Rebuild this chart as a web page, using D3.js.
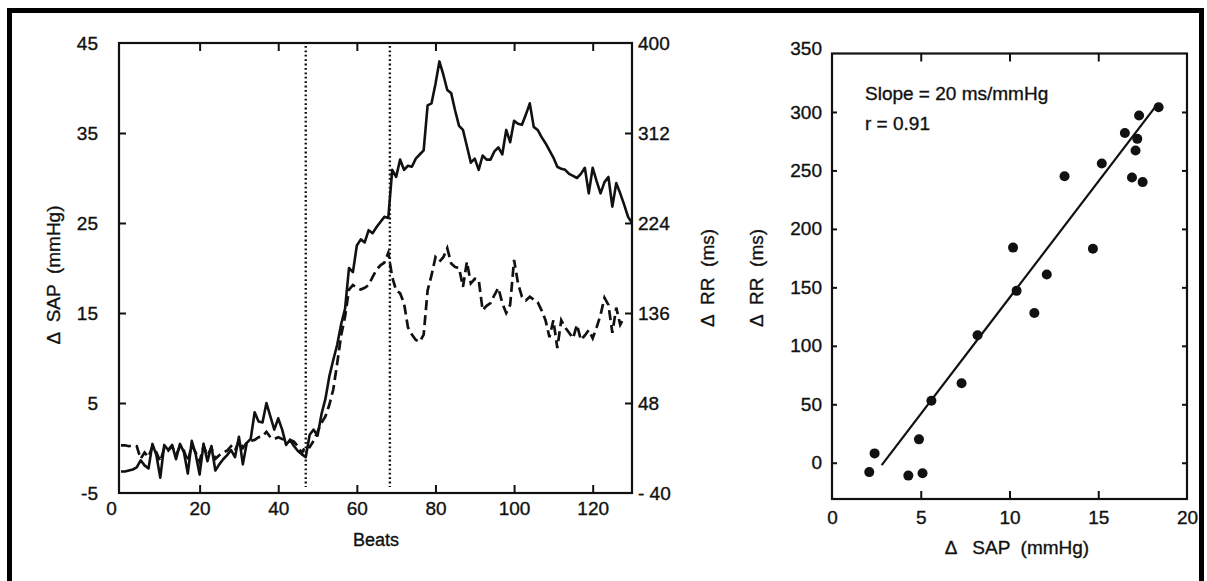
<!DOCTYPE html>
<html><head><meta charset="utf-8">
<script src="https://cdn.jsdelivr.net/npm/d3@7"></script>
<style>
html,body{margin:0;padding:0;background:#fff;}
svg{display:block;font-family:"Liberation Sans",Arial,sans-serif;}
svg text{stroke:#111;stroke-width:0.35px;}
</style></head><body>
<svg id="c" width="1207" height="581"></svg>
<script>
// ---------- data ----------
// Left panel: beat-by-beat changes
const rrValues = [ // solid line, ΔRR (ms), beats 0..130
 -19,-19,-18,-17,-15,-8,-13,-16,8,-3,
 -25,7,2,7,-7,8,0,-21,11,-2,
 -22,8,-9,6,-18,-12,-7,-3,2,-5,
 15,-12,9,13,39,30,29,48,35,22,
 33,22,7,12,6,1,-2,-5,17,22,
 16,37,52,74,90,105,125,140,180,176,
 202,208,205,217,214,220,225,230,229,276,
 269,286,276,280,279,287,291,295,339,341,
 360,382,369,354,351,334,319,315,299,283,
 287,276,290,286,286,294,298,291,315,303,
 324,321,320,330,341,318,315,308,302,295,
 288,279,277,276,272,270,268,272,278,253,
 278,265,253,264,269,240,263,253,242,230,
 224];
const sapValues = [ // dashed line, ΔSAP (mmHg), beats 0..128
 0.3,0.3,0.2,0.3,0.2,-1.2,-0.5,-1,0.2,-0.5,
 -1.5,0,-0.3,0.2,-0.8,0.2,-0.3,-1.5,0.3,-0.5,
 -1.5,0.2,-0.8,0,-1.2,-0.8,-0.5,-0.3,0.2,-0.3,
 0.8,0,0.6,0.8,0.9,1.2,1.3,1.8,1.2,1.0,
 1.2,1.0,0.9,0.9,0.7,0.2,-0.6,0.3,0.1,0.8,
 1.8,2.8,3.5,4.8,6.5,9.4,12.5,14.6,17.6,18.1,
 17.8,17.6,17.8,18.1,19,19.8,20.3,20.6,21.7,19,
 17.5,17.2,16.1,13.4,12.6,12,11.8,12.6,17.5,19.2,
 21.2,20.7,21.2,22.2,20.5,20.1,20,17.9,20.7,18.3,
 18.8,18.7,15.3,15.8,16.1,17,17.8,16.1,15,15.9,
 20.9,18.3,16.8,16.4,16.8,16.5,16.2,15.3,14.2,12.3,
 14.2,11.1,14.2,13.4,12.8,12.2,13.7,12,12.5,13.1,
 12.2,13.4,14.8,16.7,15.9,12.8,15.6,13.7,14.5];
const markerBeats = [47, 68.4];
const beatTicks = [0, 20, 40, 60, 80, 100, 120];
const sapTicks = [-5, 5, 15, 25, 35, 45];
const rrTicks = [-40, 48, 136, 224, 312, 400];

// Right panel: scatter
const scatterSAP = [18.4,17.3,16.5,17.2,17.1,15.2,13.1,16.9,17.5,10.2,14.7,12.1,10.4,11.4,8.2,7.3,5.6,4.9,2.4,2.1,4.3,5.1];
const scatterRR  = [304,297,282,277,267,256,245,244,240,184,183,161,147,128,109,68,53,20,8,-8,-11,-9];
const fitSAP = [2.8, 18.3];
const fitRR = [-2, 306];
const scatterXTicks = [0, 5, 10, 15, 20];
const scatterYTicks = [0, 50, 100, 150, 200, 250, 300, 350];

// ---------- drawing ----------
const svg = d3.select('#c');
const INK = '#111';
const FS = 19;

// outer frame
svg.append('path').attr('d','M9.5,581 V10.5 H1201.5 V581')
  .attr('fill','none').attr('stroke','#000').attr('stroke-width',5);

function styleAxis(g){
  g.select('.domain').remove();
  g.selectAll('line').attr('stroke',INK).attr('stroke-width',2);
  g.selectAll('text').attr('fill',INK).style('font-size',FS+'px').style('font-family','"Liberation Sans",Arial,sans-serif');
}

// ---- left panel ----
const x = d3.scaleLinear([0,130],[121,632]);
const ySAP = d3.scaleLinear([-5,45],[493,43]);
const yRR = d3.scaleLinear([-40,400],[493,43]);
const L = svg.append('g');

L.append('rect').attr('x',119).attr('y',ySAP(45)).attr('width',x(130)-119).attr('height',ySAP(-5)-ySAP(45))
  .attr('fill','none').attr('stroke',INK).attr('stroke-width',2.2);

L.append('g').attr('transform',`translate(0,${ySAP(-5)})`)
  .call(d3.axisBottom(x).tickValues(beatTicks).tickSize(-8).tickPadding(9).tickFormat(d3.format('d'))).call(styleAxis)
  .call(g=>g.selectAll('.tick').filter(d=>d===0).select('line').remove())
  .call(g=>g.selectAll('.tick').filter(d=>d===0).select('text').attr('dx',-10));
L.append('g').attr('transform',`translate(0,${ySAP(45)})`)
  .call(d3.axisTop(x).tickValues(beatTicks.slice(1)).tickSize(-8).tickFormat('')).call(styleAxis);
L.append('g').attr('transform',`translate(119,0)`)
  .call(d3.axisLeft(ySAP).tickValues(sapTicks).tickSize(-7).tickPadding(21).tickFormat(d=>d<0?'-'+Math.abs(d):d)).call(styleAxis)
  .call(g=>g.selectAll('.tick').filter(d=>d===45||d===-5).select('line').remove());
L.append('g').attr('transform',`translate(${x(130)},0)`)
  .call(d3.axisRight(yRR).tickValues(rrTicks).tickSize(-7).tickPadding(6)
    .tickFormat(d=>d<0?'- '+Math.abs(d):d)).call(styleAxis)
  .call(g=>g.selectAll('.tick').filter(d=>d===400||d===-40).select('line').remove());

// dotted markers
L.selectAll('.mark').data(markerBeats).join('line')
  .attr('x1',d=>x(d)).attr('x2',d=>x(d)).attr('y1',ySAP(45)+3).attr('y2',ySAP(-5)-6)
  .attr('stroke',INK).attr('stroke-width',2.4).attr('stroke-dasharray','1.8,2.6');

// series
L.append('path').datum(sapValues)
  .attr('d',d3.line().x((d,i)=>x(i)).y(d=>ySAP(d)))
  .attr('fill','none').attr('stroke',INK).attr('stroke-width',2.7).attr('stroke-dasharray','10,5');
L.append('path').datum(rrValues)
  .attr('d',d3.line().x((d,i)=>x(i)).y(d=>yRR(d)))
  .attr('fill','none').attr('stroke',INK).attr('stroke-width',2.6).attr('stroke-linejoin','round');

// titles
L.append('text').attr('transform',`translate(60,275) rotate(-90)`).attr('text-anchor','middle')
  .attr('fill',INK).style('font-size','19px').attr('xml:space','preserve').text('Δ  SAP  (mmHg)');
L.append('text').attr('transform',`translate(714,278) rotate(-90)`).attr('text-anchor','middle')
  .attr('fill',INK).style('font-size','19px').attr('xml:space','preserve').text('Δ  RR  (ms)');
L.append('text').attr('x',376).attr('y',546).attr('text-anchor','middle')
  .attr('fill',INK).style('font-size','18px').text('Beats');

// ---- right panel ----
const sx = d3.scaleLinear([0,20],[832,1187]);
const sy = d3.scaleLinear([-31,350],[499,53.5]);
const R = svg.append('g');
R.append('rect').attr('x',sx(0)).attr('y',sy(350)).attr('width',sx(20)-sx(0)).attr('height',sy(-31)-sy(350))
  .attr('fill','none').attr('stroke',INK).attr('stroke-width',2.2);
R.append('g').attr('transform',`translate(0,${sy(-31)})`)
  .call(d3.axisBottom(sx).tickValues(scatterXTicks).tickSize(-8).tickPadding(12)).call(styleAxis)
  .call(g=>g.selectAll('.tick').filter(d=>d===0||d===20).select('line').remove());
R.append('g').attr('transform',`translate(0,${sy(350)})`)
  .call(d3.axisTop(sx).tickValues([5,10,15]).tickSize(-8).tickFormat('')).call(styleAxis);
R.append('g').attr('transform',`translate(${sx(0)},0)`)
  .call(d3.axisLeft(sy).tickValues(scatterYTicks).tickSize(-5).tickPadding(10)).call(styleAxis)
  .call(g=>g.selectAll('.tick').filter(d=>d===350).select('line').remove())
  .call(g=>g.selectAll('.tick').filter(d=>d===350).select('text').attr('dy','0.05em'));
R.append('g').attr('transform',`translate(${sx(20)},0)`)
  .call(d3.axisRight(sy).tickValues(scatterYTicks.slice(0,7)).tickSize(-5).tickFormat('')).call(styleAxis);

R.append('line').attr('x1',sx(fitSAP[0])).attr('y1',sy(fitRR[0])).attr('x2',sx(fitSAP[1])).attr('y2',sy(fitRR[1]))
  .attr('stroke',INK).attr('stroke-width',2.2);
R.selectAll('circle').data(scatterSAP).join('circle')
  .attr('cx',d=>sx(d)).attr('cy',(d,i)=>sy(scatterRR[i])).attr('r',5).attr('fill',INK);

R.append('text').attr('x',865).attr('y',100).attr('fill',INK).style('font-size','19px').text('Slope = 20 ms/mmHg');
R.append('text').attr('x',865).attr('y',130).attr('fill',INK).style('font-size','19px').text('r = 0.91');
R.append('text').attr('transform',`translate(763,278) rotate(-90)`).attr('text-anchor','middle')
  .attr('fill',INK).style('font-size','19px').attr('xml:space','preserve').text('Δ  RR  (ms)');
R.append('text').attr('x',1017).attr('y',554).attr('text-anchor','middle').attr('xml:space','preserve')
  .attr('fill',INK).style('font-size','19px').text('Δ   SAP  (mmHg)');
</script>
</body></html>
